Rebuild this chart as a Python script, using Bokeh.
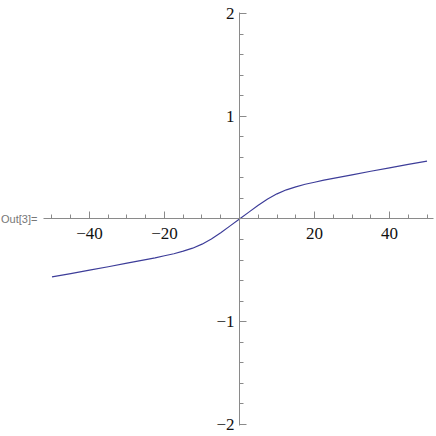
from bokeh.plotting import figure
from bokeh.models import FixedTicker, Label, Range1d
from bokeh.embed import file_html
from bokeh.resources import INLINE

# Data
x_vals = [-50, -45, -40, -35, -30, -25, -22.5, -20, -17.5, -15, -12.5, -10, -7.5, -5, -2.5, 0,
          2.5, 5, 7.5, 10, 12.5, 15, 17.5, 20, 22.5, 25, 30, 35, 40, 45, 50]
y_vals = [-0.563, -0.531, -0.498, -0.465, -0.43, -0.395, -0.378, -0.358, -0.338, -0.313, -0.284, -0.245, -0.194, -0.133, -0.067, 0.0,
          0.067, 0.133, 0.194, 0.245, 0.284, 0.313, 0.338, 0.358, 0.378, 0.395, 0.43, 0.465, 0.498, 0.531, 0.563]

x_major = [-40, -20, 20, 40]
x_minor = [-50, -45, -35, -30, -25, -15, -10, -5, 5, 10, 15, 25, 30, 35, 45, 50]
y_major = [-2, -1, 1, 2]
y_minor = [-1.8, -1.6, -1.4, -1.2, -0.8, -0.6, -0.4, -0.2, 0.2, 0.4, 0.6, 0.8, 1.2, 1.4, 1.6, 1.8]
x_labels = {-40: "\u221240", -20: "\u221220", 20: "20", 40: "40"}
y_labels = {-2: "\u22122", -1: "\u22121", 1: "1", 2: "2"}
x_axis_extent = (-52.27, 51.73)
y_axis_extent = (-2.01, 2.01)

p = figure(width=436, height=436, output_backend="svg", toolbar_location=None,
           x_range=Range1d(-63.73, 52.53), y_range=Range1d(-2.1168, 2.1265),
           min_border_left=0, min_border_right=0, min_border_top=0, min_border_bottom=0)
p.outline_line_color = None
p.xgrid.visible = False
p.ygrid.visible = False
p.background_fill_color = "white"
p.border_fill_color = "white"

p.line(x_vals, y_vals, line_color="#3d3d99", line_width=1.2, line_join="round")

axis_col = "#8a8a8a"
p.xaxis.ticker = FixedTicker(ticks=x_major, minor_ticks=x_minor)
p.yaxis.ticker = FixedTicker(ticks=y_major, minor_ticks=y_minor)
p.xaxis.major_label_overrides = x_labels
p.yaxis.major_label_overrides = y_labels
p.xaxis.bounds = x_axis_extent
p.yaxis.bounds = y_axis_extent
p.axis.fixed_location = 0
p.axis.axis_line_color = axis_col
p.axis.major_tick_line_color = axis_col
p.axis.minor_tick_line_color = axis_col
p.axis.major_tick_in = 7
p.axis.major_tick_out = 0
p.axis.minor_tick_in = 4
p.axis.minor_tick_out = 0
p.axis.major_label_text_font = "Liberation Serif"
p.axis.major_label_text_font_size = "17px"
p.axis.major_label_text_color = "#111111"
p.xaxis.major_label_standoff = 9
p.yaxis.major_label_standoff = 5

p.add_layout(Label(x=-63.6, y=0, x_units="data", y_units="data", text="Out[3]=",
                   text_font="Liberation Sans", text_font_size="11px",
                   text_color="#777777", text_baseline="middle", text_align="left"))

open("out.html", "w").write(file_html(p, INLINE))
